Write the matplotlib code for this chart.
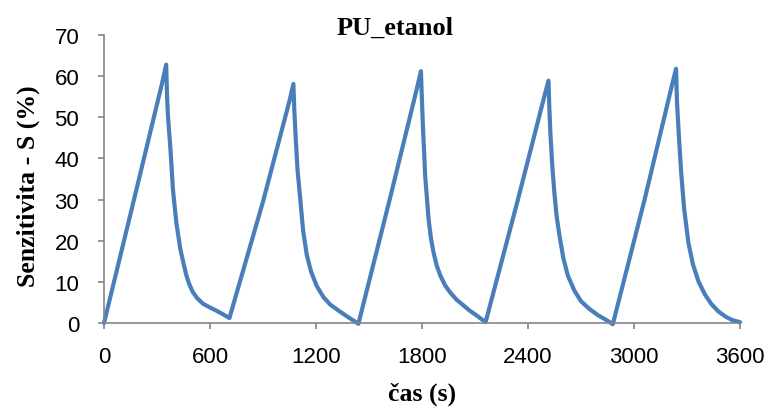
import matplotlib
matplotlib.use("Agg")
import matplotlib.pyplot as plt

# Sensitivity of the PU sensor to ethanol over five exposure/recovery cycles
time_s = [
    0, 180, 330, 352,
    357, 362, 376, 390, 409, 432, 450, 466, 483, 503, 528, 560, 598, 636, 670, 710,
    900, 1050, 1072,
    1077, 1082, 1095, 1110, 1127, 1148, 1172, 1204, 1242, 1280, 1328, 1376, 1408, 1440,
    1620, 1770, 1794,
    1799, 1805, 1818, 1837, 1851, 1865, 1883, 1903, 1930, 1958, 1995, 2034, 2070, 2110, 2135, 2160,
    2340, 2495, 2516,
    2521, 2527, 2537, 2549, 2562, 2578, 2600, 2625, 2662, 2700, 2748, 2796, 2840, 2880,
    3060, 3215, 3238,
    3243, 3256, 3268, 3284, 3308, 3334, 3366, 3402, 3438, 3478, 3520, 3557, 3600,
]
sensitivity = [
    0.0, 31.8, 58.5, 62.8,
    55.0, 50.4, 42.3, 32.6, 24.5, 18.0, 14.5, 11.6, 9.4, 7.5, 6.0, 4.7, 3.8, 3.0, 2.2, 1.2,
    29.5, 54.0, 58.1,
    52.0, 47.5, 37.5, 30.5, 22.5, 16.5, 12.5, 9.0, 6.3, 4.5, 3.0, 1.6, 0.7, -0.2,
    30.5, 56.8, 61.2,
    55.0, 48.0, 35.8, 25.3, 20.5, 17.2, 14.0, 11.6, 9.2, 7.5, 5.7, 4.3, 3.0, 1.8, 1.0, 0.2,
    29.5, 55.5, 58.9,
    52.0, 46.0, 38.5, 31.8, 26.0, 21.3, 15.8, 11.6, 7.9, 5.3, 3.4, 1.9, 0.8, -0.3,
    30.0, 57.8, 61.8,
    54.0, 44.0, 36.0, 27.7, 19.5, 14.2, 10.0, 6.9, 4.6, 2.8, 1.5, 0.7, 0.2,
]

x_ticks = [0, 600, 1200, 1800, 2400, 3000, 3600]
y_ticks = [0, 10, 20, 30, 40, 50, 60, 70]

title_text = "PU_etanol"
x_label = "čas (s)"
y_label = "Senzitivita - S (%)"

tick_family = "Liberation Sans"
serif_family = "Liberation Serif"

line_color = "#4A7EBB"
axis_color = "#868686"

W, H = 771, 410
fig = plt.figure(figsize=(W / 100, H / 100), dpi=100)
left, right, top, bottom = 104, 740, 36, 324
ax = fig.add_axes([left / W, 1 - bottom / H, (right - left) / W, (bottom - top) / H])

ax.plot(time_s, sensitivity, color=line_color, linewidth=3.0,
        solid_joinstyle="round", solid_capstyle="round", clip_on=False)

ax.set_xlim(0, 3600)
ax.set_ylim(0, 70)
ax.set_xticks(x_ticks)
ax.set_yticks(y_ticks)
ax.set_xticklabels([str(v) for v in x_ticks], fontfamily=tick_family, fontsize=16)
ax.set_yticklabels([str(v) for v in y_ticks], fontfamily=tick_family, fontsize=16)

for side in ("top", "right"):
    ax.spines[side].set_visible(False)
for side in ("left", "bottom"):
    ax.spines[side].set_color(axis_color)
    ax.spines[side].set_linewidth(1.2)
ax.tick_params(axis="both", direction="out", length=4.3, width=1.2,
               color=axis_color, labelcolor="black")
ax.tick_params(axis="x", pad=12)
ax.tick_params(axis="y", pad=13.5)

fig.text(395 / W, 1 - 35 / H, title_text, fontfamily=serif_family,
         fontweight="bold", fontsize=19, ha="center", va="baseline")
fig.text(422 / W, 1 - 401 / H, x_label, fontfamily=serif_family,
         fontweight="bold", fontsize=18.5, ha="center", va="baseline")
fig.text(28 / W, 1 - 186 / H, y_label, fontfamily=serif_family,
         fontweight="bold", fontsize=18.5, ha="center", va="center",
         rotation=90)

fig.savefig("out.png", dpi=100)
